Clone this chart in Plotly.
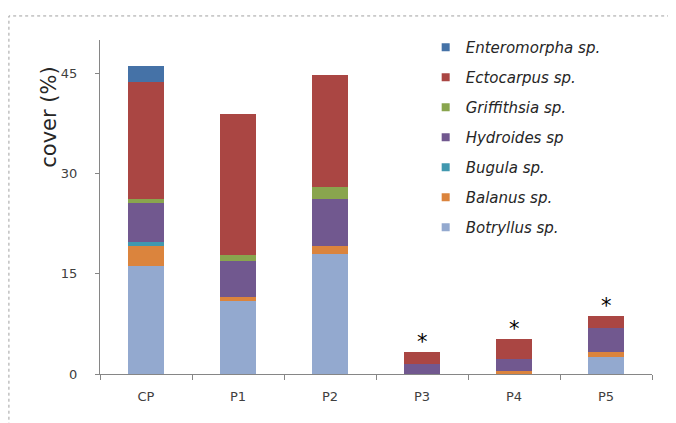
import plotly.graph_objects as go

categories = ["CP", "P1", "P2", "P3", "P4", "P5"]
botryllus = [16.2, 11.0, 17.9, 0.0, 0.0, 2.6]
balanus = [2.9, 0.6, 1.3, 0.0, 0.5, 0.7]
bugula = [0.6, 0.0, 0.0, 0.0, 0.0, 0.0]
hydroides = [5.9, 5.3, 7.0, 1.5, 1.7, 3.6]
griffithsia = [0.6, 0.85, 1.8, 0.0, 0.0, 0.0]
ectocarpus = [17.5, 21.2, 16.8, 1.75, 3.0, 1.8]
enteromorpha = [2.4, 0.0, 0.0, 0.0, 0.0, 0.0]
significant = ["P3", "P4", "P5"]
y_ticks = [0, 15, 30, 45]

series = [
    ("Botryllus sp.", botryllus, "#93A9CF"),
    ("Balanus sp.", balanus, "#DB843D"),
    ("Bugula sp.", bugula, "#4198AF"),
    ("Hydroides sp", hydroides, "#71588F"),
    ("Griffithsia sp.", griffithsia, "#89A54E"),
    ("Ectocarpus sp.", ectocarpus, "#AA4643"),
    ("Enteromorpha sp.", enteromorpha, "#4572A7"),
]

fig = go.Figure()
n = len(series)
for k, (name, vals, col) in enumerate(series):
    fig.add_trace(go.Bar(
        x=categories, y=vals, name=name, legendgroup=name, showlegend=False,
        marker=dict(color=col, line=dict(width=0)),
    ))
    # legend entry with a smaller square swatch
    fig.add_trace(go.Scatter(
        x=[None], y=[None], mode="markers", name=name, legendgroup=name,
        legendrank=n - k, showlegend=True, hoverinfo="skip",
        marker=dict(symbol="square", size=8, color=col),
    ))

totals = [sum(v[i] for _, v, _ in series) for i in range(len(categories))]
for c in significant:
    i = categories.index(c)
    fig.add_annotation(x=c, y=totals[i], text="*", showarrow=False,
                       yanchor="bottom", yshift=-4,
                       font=dict(size=21, color="black", family="DejaVu Sans"))

fig.add_annotation(xref="paper", yref="paper", x=-0.092, y=0.768,
                   xanchor="center", yanchor="middle",
                   text="cover (%)", textangle=-90, showarrow=False,
                   font=dict(size=21, color="#262626", family="DejaVu Sans"))

fig.add_shape(type="rect", xref="paper", yref="paper",
              x0=-0.165, x1=1.06, y0=-0.2, y1=1.072,
              line=dict(color="#A0A0A0", width=1, dash="dot"), layer="below")

fig.update_layout(
    width=676, height=423,
    margin=dict(l=92, r=32, t=32, b=57),
    barmode="stack", bargap=0.6,
    plot_bgcolor="white", paper_bgcolor="white",
    showlegend=True,
    legend=dict(x=0.59, y=1.027, xanchor="left", yanchor="top",
                traceorder="grouped", tracegroupgap=7.5, maxheight=400,
                font=dict(size=15, color="#262626", family="DejaVu Sans", style="italic"),
                bgcolor="rgba(0,0,0,0)"),
    font=dict(family="DejaVu Sans"),
)
fig.update_xaxes(showline=True, linecolor="#868686", linewidth=1, automargin=False,
                 ticks="outside", tickson="boundaries", ticklen=5, tickcolor="#868686",
                 tickfont=dict(size=13, color="#404040"), ticklabelstandoff=10,
                 showgrid=False)
fig.update_yaxes(range=[0, 50], tickvals=y_ticks, showline=True, linecolor="#868686",
                 linewidth=1, ticks="outside", ticklen=4, tickcolor="#868686", automargin=False,
                 tickfont=dict(size=13, color="#404040"), ticklabelstandoff=15,
                 showgrid=False, zeroline=False)

fig.write_html("out.html")
